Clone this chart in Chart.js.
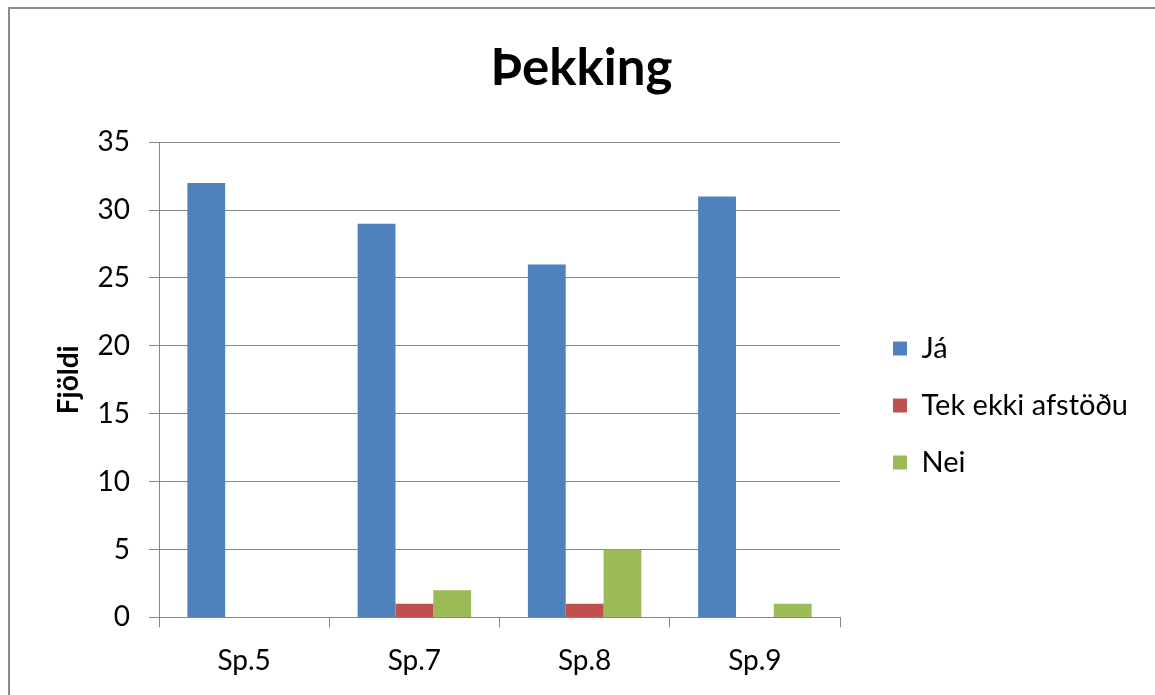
<!DOCTYPE html>
<html>
<head>
<meta charset="utf-8">
<script src="https://cdn.jsdelivr.net/npm/chart.js@4"></script>
<style>
  html, body { margin: 0; padding: 0; background: #fff; overflow: hidden; }
  #wrap { position: relative; width: 1155px; height: 695px; }
  #frame { position: absolute; left: 8px; top: 7px; width: 1200px; height: 760px;
           border-left: 2px solid #8a8a8a; border-top: 2px solid #8a8a8a; }
  canvas { position: absolute; left: 0; top: 0; }
</style>
</head>
<body>
<div id="wrap">
  <div id="frame"></div>
  <canvas id="c" width="1155" height="695"></canvas>
</div>
<script>
// Survey questions and answer counts
const categories = ['Sp.5', 'Sp.7', 'Sp.8', 'Sp.9'];
const jaValues = [32, 29, 26, 31];
const tekEkkiValues = [0, 1, 1, 0];
const neiValues = [0, 2, 5, 1];
const yTicks = [0, 5, 10, 15, 20, 25, 30, 35];

const FONT = 'Lato, "Open Sans", sans-serif';
const GREY = '#868686';

// Move the legend away from the plot and the title over the plot's centre
const boxShift = {
  id: 'boxShift',
  afterLayout(chart) {
    const lg = chart.legend;
    if (lg) {
      lg.left += 25; lg.right += 25;
      lg.top += 58; lg.bottom += 58;
    }
    const tb = chart.titleBlock;
    if (tb) {
      tb.left += 25; tb.right += 25;
    }
  }
};

new Chart(document.getElementById('c'), {
  type: 'bar',
  data: {
    labels: categories,
    datasets: [
      { label: 'Já', data: jaValues, backgroundColor: '#4F81BD' },
      { label: 'Tek ekki afstöðu', data: tekEkkiValues, backgroundColor: '#C0504D' },
      { label: 'Nei', data: neiValues, backgroundColor: '#9BBB59' }
    ]
  },
  options: {
    responsive: false,
    animation: false,
    events: [],
    layout: { padding: { left: 0, right: 42, top: 0, bottom: 0 } },
    datasets: {
      bar: { categoryPercentage: 3 / 4.5, barPercentage: 1.0, borderWidth: 0 }
    },
    plugins: {
      title: {
        display: true,
        text: 'Þekking',
        color: '#000',
        font: { family: FONT, size: 51, weight: 'bold', lineHeight: 1.2 },
        padding: { top: 38, bottom: 43 }
      },
      legend: {
        display: true,
        position: 'right',
        labels: {
          color: '#000',
          font: { family: FONT, size: 29 },
          boxWidth: 14,
          boxHeight: 14,
          padding: 28
        }
      },
      tooltip: { enabled: false }
    },
    scales: {
      x: {
        grid: { display: true, drawOnChartArea: false, drawTicks: true, tickLength: 10, color: GREY, offset: true },
        border: { display: true, color: GREY, width: 1 },
        ticks: { color: '#000', font: { family: FONT, size: 28 }, padding: 17 }
      },
      y: {
        min: 0,
        max: 35,
        afterBuildTicks(scale) { scale.ticks = yTicks.map(v => ({ value: v })); },
        afterFit(scale) { scale.width = 159; },
        grid: { color: GREY, drawTicks: true, tickLength: 10 },
        border: { display: true, color: GREY, width: 1 },
        ticks: { color: '#000', font: { family: FONT, size: 28 }, padding: 19 },
        title: {
          display: true,
          text: 'Fjöldi',
          color: '#000',
          font: { family: FONT, size: 28, weight: 'bold', lineHeight: 1.2 },
          padding: { top: 52, bottom: 0 }
        }
      }
    }
  },
  plugins: [boxShift]
});
</script>
</body>
</html>
